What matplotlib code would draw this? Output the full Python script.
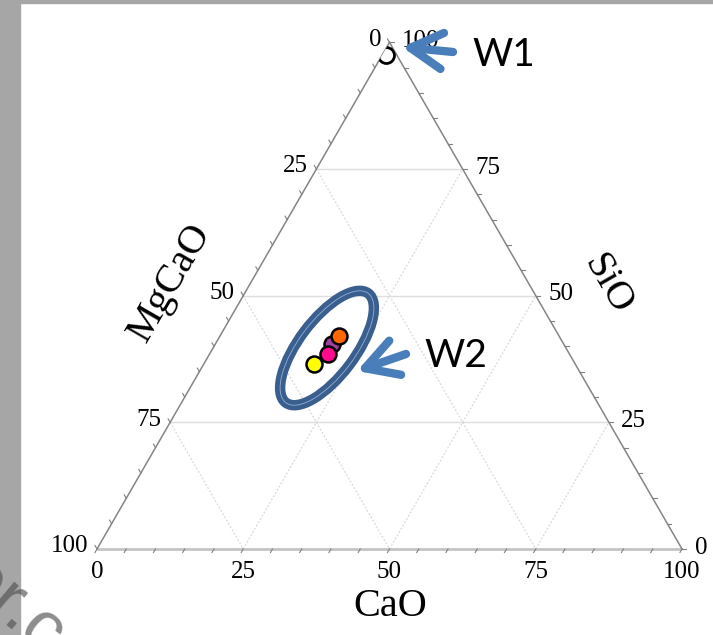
import numpy as np
import matplotlib
matplotlib.use('Agg')
import matplotlib.pyplot as plt
from matplotlib.patches import Ellipse, FancyArrowPatch, Polygon, Rectangle

# composition of the samples (wt %)
w2_cao = [18.8, 20.3, 20.0, 20.4]
w2_sio = [36.6, 38.5, 40.4, 42.1]
w2_colors = ['#ffff00', '#ff0a8c', '#a040a0', '#ff6600']
w2_order = [2, 1, 0, 3]          # drawing order (purple sits behind)

w1_cao = [0.6]
w1_sio = [97.6]

ticks = [0, 25, 50, 75, 100]
grid_vals = [25, 50, 75]

# pixel layout of the reference picture
W, H = 713, 635
X0, Y0, S = 97, 549, 5.85        # bottom-left vertex and px per unit
SQ = np.sqrt(3) / 2


def tern(cao, sio):
    cao = np.asarray(cao, float)
    sio = np.asarray(sio, float)
    return cao + sio / 2, sio * SQ


def P(px, py):
    return (px - X0) / S, (Y0 - py) / S


fig = plt.figure(figsize=(W / 100, H / 100), dpi=100)
ax = fig.add_axes([0, 0, 1, 1])
ax.set_xlim(-X0 / S, (W - X0) / S)
ax.set_ylim((Y0 - H) / S, Y0 / S)
ax.axis('off')

# grey frame bits of the slide
fig.patches.append(Rectangle((0, 0), 20 / W, 1, transform=fig.transFigure,
                             color='#a6a6a6', zorder=0))
fig.patches.append(Rectangle((0, 1 - 3 / H), 1, 3 / H, transform=fig.transFigure,
                             color='#a6a6a6', zorder=0))

# grid: horizontal (SiO) solid, the diagonals dotted
for v in grid_vals:
    x, y = tern([0, 100 - v], [v, v])
    ax.plot(x, y, color='#dedede', lw=1, zorder=1)
    x, y = tern([v, v], [0, 100 - v])
    ax.plot(x, y, color='#d8d8d8', lw=0.9, ls=(0, (1.5, 1.5)), zorder=1)
    x, y = tern([0, 100 - v], [100 - v, 0])
    ax.plot(x, y, color='#d8d8d8', lw=0.9, ls=(0, (1.5, 1.5)), zorder=1)

# triangle edges
x, y = tern([0, 100], [0, 0])
ax.plot(x, y, color='#c4c4c4', lw=2, zorder=2, solid_capstyle='butt')
x, y = tern([0, 0], [0, 100])
ax.plot(x, y, color='#858585', lw=1.1, zorder=2)
x, y = tern([100, 0], [0, 100])
ax.plot(x, y, color='#858585', lw=1.1, zorder=2)

# small ticks every 5 units, pointing outwards along the grid direction
tl = 0.7
for v in range(0, 101, 5):
    bx, by = tern(v, 0)
    ax.plot([bx, bx - tl * 0.5], [by, by - tl * SQ], color='#808080', lw=0.8, zorder=2)
    lx, ly = tern(0, 100 - v)
    ax.plot([lx, lx - tl * 0.5], [ly, ly + tl * SQ], color='#808080', lw=0.8, zorder=2)
    rx, ry = tern(100 - v, v)
    ax.plot([rx, rx + tl], [ry, ry], color='#808080', lw=0.8, zorder=2)

tick_font = dict(family='Liberation Serif', fontsize=18, color='black')
for v in ticks:
    # bottom: CaO
    ax.annotate(str(v), tern(v, 0), xytext=(0, -9), textcoords='offset points',
                ha='center', va='top', **tick_font)
    # left: MgCaO (100 at the bottom)
    ax.annotate(str(v), tern(0, 100 - v), xytext=(-6, 2), textcoords='offset points',
                ha='right', va='center', **tick_font)
    # right: SiO
    ax.annotate(str(v), tern(100 - v, v), xytext=(9, 1), textcoords='offset points',
                ha='left', va='center', **tick_font)

title_font = dict(family='Liberation Serif', fontsize=29, color='black')
ax.text(*P(390, 607), 'CaO', ha='center', va='center', **title_font)
ax.text(*P(170, 283), 'MgCaO', ha='center', va='center', rotation=60,
        rotation_mode='anchor', **title_font)
ax.text(*P(607, 284), 'SiO', ha='center', va='center', rotation=-60,
        rotation_mode='anchor', **title_font)

# samples
for i in w2_order:
    x, y = tern(w2_cao[i], w2_sio[i])
    ax.plot(x, y, 'o', ms=11.5, mfc=w2_colors[i], mec='black', mew=1.8, zorder=6)

tri = Polygon([tern(0, 0), tern(100, 0), tern(0, 100)], closed=True,
              transform=ax.transData, fill=False, lw=0)
x, y = tern(w1_cao, w1_sio)
w1_mark, = ax.plot(x, y, 'o', ms=11.5, mfc='white', mec='black', mew=2, zorder=6)
w1_mark.set_clip_path(tri)

# ring around the W2 cluster
ring_c = P(327, 348)
ax.add_patch(Ellipse(ring_c, 23.4, 9.6, angle=53, fill=False,
                     ec='#3a5f8e', lw=7.5, zorder=7))
ax.add_patch(Ellipse(ring_c, 23.4, 9.6, angle=53, fill=False,
                     ec='#8fb0d8', lw=0.6, zorder=7))

# arrows and labels
arrow_kw = dict(arrowstyle='->,head_length=1.15,head_width=0.65', mutation_scale=20,
                color='#4a7ebb', lw=6, shrinkA=0, shrinkB=0, zorder=8)
ax.add_patch(FancyArrowPatch(P(453, 52), P(402, 47), **arrow_kw))
ax.add_patch(FancyArrowPatch(P(406, 354), P(357, 371), **arrow_kw))

lab_font = dict(family='Lato', fontsize=28, color='black')
ax.text(*P(472, 55), 'W1', ha='left', va='center', **lab_font)
ax.text(*P(424, 356), 'W2', ha='left', va='center', **lab_font)

# faint watermark clipped at the bottom left corner
fig.text(-12 / W, 1 - 545 / H, 'er.co', family='Liberation Sans', fontsize=52,
         color='#515151', alpha=0.66, rotation=-40, rotation_mode='anchor',
         ha='left', va='top', zorder=10)

fig.savefig('out.png', dpi=100)
